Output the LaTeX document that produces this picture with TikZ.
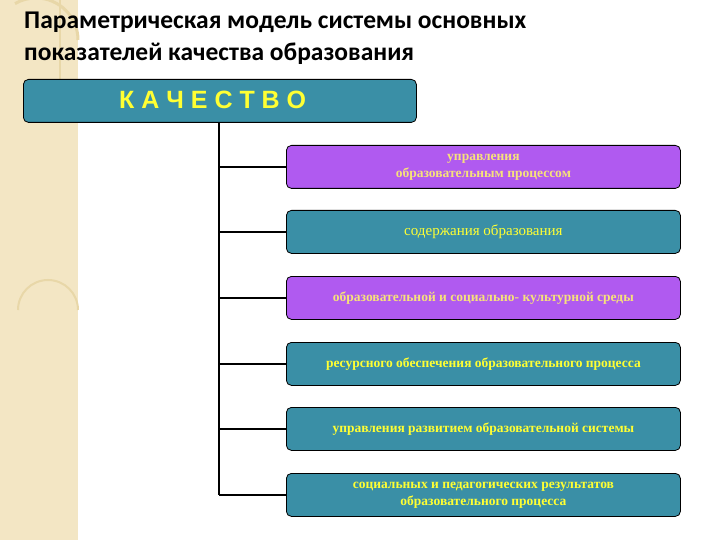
\documentclass[tikz,border=0pt]{standalone}
\usepackage{fontspec}
\setmainfont{Liberation Serif}
\newfontfamily\titlefont{Carlito}
\newfontfamily\headfont{Liberation Sans}
\definecolor{teal1}{HTML}{3A8FA6}
\definecolor{purp}{HTML}{B05AF0}
\definecolor{beige}{HTML}{F3E6C4}
\definecolor{beigel}{HTML}{E8D7A8}
\definecolor{ytext}{HTML}{FFFF33}
\definecolor{ptext}{HTML}{F7E27A}
\begin{document}
\begin{tikzpicture}[x=1pt,y=-1pt,
  item/.style={draw=black,line width=0.8pt,rounded corners=5pt,minimum width=394pt,minimum height=43pt,align=center,font=\bfseries\fontsize{13.5}{17}\selectfont,anchor=north west,inner sep=0pt},
  tealbox/.style={item,fill=teal1,text=ytext},
  purpbox/.style={item,fill=purp,text=ptext},
  conn/.style={line width=1.6pt}]
\useasboundingbox (0,0) rectangle (720,540);
\fill[white] (0,0) rectangle (720,540);
\fill[beige] (0,0) rectangle (78,540);
\draw[beigel,line width=3pt] (78,40) arc (0:-120:42);
\draw[beigel,line width=2pt] (78,310) arc (0:-180:30);
\draw[beigel,line width=2pt] (60,0) -- (60,100);
\node[anchor=north west,font=\titlefont\bfseries\fontsize{25.5}{32}\selectfont,align=left,inner sep=0pt] (title) at (24,12) {Параметрическая модель системы основных\\показателей качества образования};
\node[draw=black,line width=0.8pt,fill=teal1,rounded corners=5pt,minimum width=393pt,minimum height=43pt,anchor=north west,inner sep=0pt] (top) at (23,79) {};
\node[font=\headfont\bfseries\fontsize{25}{28}\selectfont,text=ytext,anchor=west,inner sep=0pt] (toptext) at (119,100) {К А Ч Е С Т В О};
\node[purpbox] (b1) at (286,145) {управления\\образовательным процессом};
\node[tealbox,font=\fontsize{15}{18}\selectfont] (b2) at (286,210) {содержания образования};
\node[purpbox] (b3) at (286,276) {образовательной и социально- культурной среды};
\node[tealbox] (b4) at (286,342) {ресурсного обеспечения образовательного процесса};
\node[tealbox] (b5) at (286,407) {управления развитием образовательной системы};
\node[tealbox] (b6) at (286,473) {социальных и педагогических результатов\\образовательного процесса};
\coordinate (tj) at (219,122);
\coordinate (bj) at (219,495);
\draw[conn] (tj) -- (bj);
\foreach \b in {b1,b2,b3,b4,b5,b6}{\draw[conn] (\b.west) -- (tj |- \b.west);}
\end{tikzpicture}
\end{document}
